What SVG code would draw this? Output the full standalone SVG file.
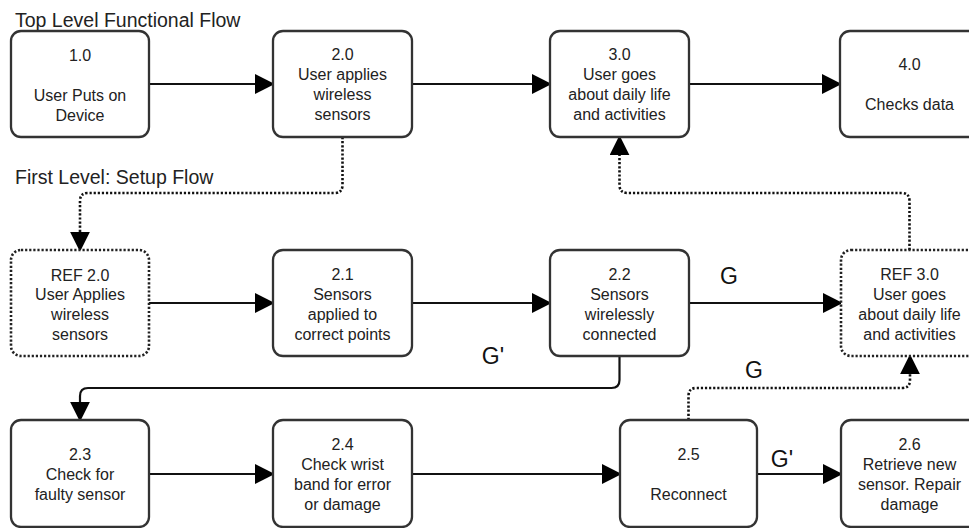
<svg xmlns="http://www.w3.org/2000/svg" width="969" height="528" viewBox="0 0 969 528">
  <style>
    .box { fill: #fff; stroke: #333; stroke-width: 2.3; }
    .ref { fill: #fff; stroke: #222; stroke-width: 2.6; stroke-dasharray: 2.2 1.9; }
    .t { font-family: "Liberation Sans", Arial, sans-serif; font-size: 16px; fill: #222; text-anchor: middle; }
    .title { font-family: "Liberation Sans", Arial, sans-serif; font-size: 19.5px; fill: #222; }
    .lbl { font-family: "Liberation Sans", Arial, sans-serif; font-size: 23px; fill: #111; text-anchor: middle; }
    .c { fill: none; stroke: #111; stroke-width: 2.2; }
    .d { fill: none; stroke: #111; stroke-width: 2.6; stroke-dasharray: 2.2 1.9; }
  </style>
  <defs>
    <marker id="arrow" markerUnits="userSpaceOnUse" markerWidth="20" markerHeight="20" viewBox="0 0 18 18" refX="2" refY="9" orient="auto">
      <path d="M0,0 L18,9 L0,18 z" fill="#000"/>
    </marker>
  </defs>

  <rect width="969" height="528" fill="#fff"/>

  <text class="title" x="15" y="27">Top Level Functional Flow</text>
  <text class="title" x="15" y="184">First Level: Setup Flow</text>

  <!-- connectors -->
  <g id="connectors">
    <path class="c" d="M149,84 H257" marker-end="url(#arrow)"/>
    <path class="c" d="M412,84 H534" marker-end="url(#arrow)"/>
    <path class="c" d="M689,84 H824" marker-end="url(#arrow)"/>
    <path class="d" d="M342.5,137 V185 Q342.5,193 334.5,193 H88 Q80,193 80,201 V234" marker-end="url(#arrow)"/>
    <path class="d" d="M909.5,250 V201 Q909.5,193 901.5,193 H627.5 Q619.5,193 619.5,185 V153" marker-end="url(#arrow)"/>
    <path class="c" d="M149,303 H257" marker-end="url(#arrow)"/>
    <path class="c" d="M412,303 H534" marker-end="url(#arrow)"/>
    <path class="c" d="M689,303 H825" marker-end="url(#arrow)"/>
    <path class="c" d="M619.5,356 V380 Q619.5,388 611.5,388 H88 Q80,388 80,396 V404" marker-end="url(#arrow)"/>
    <path class="c" d="M149,474 H257" marker-end="url(#arrow)"/>
    <path class="c" d="M412,474 H604" marker-end="url(#arrow)"/>
    <path class="c" d="M757,474 H825" marker-end="url(#arrow)"/>
    <path class="d" d="M688.5,420 V396 Q688.5,388 696.5,388 H902 Q910,388 910,380 V372" marker-end="url(#arrow)"/>
    <text class="lbl" x="729" y="284">G</text>
    <text class="lbl" x="493" y="364">G'</text>
    <text class="lbl" x="754" y="378">G</text>
    <text class="lbl" x="782" y="467">G'</text>
  </g>

  <!-- top level -->
  <g id="n1_0">
    <rect class="box" x="11" y="31" width="138" height="106" rx="10"/>
    <text class="t" x="80" y="61">1.0</text>
    <text class="t" x="80" y="101">User Puts on</text>
    <text class="t" x="80" y="121">Device</text>
  </g>
  <g id="n2_0">
    <rect class="box" x="273" y="31" width="139" height="106" rx="10"/>
    <text class="t" x="342.5" y="60">2.0</text>
    <text class="t" x="342.5" y="80">User applies</text>
    <text class="t" x="342.5" y="100">wireless</text>
    <text class="t" x="342.5" y="120">sensors</text>
  </g>
  <g id="n3_0">
    <rect class="box" x="550" y="31" width="139" height="106" rx="10"/>
    <text class="t" x="619.5" y="60">3.0</text>
    <text class="t" x="619.5" y="80">User goes</text>
    <text class="t" x="619.5" y="100">about daily life</text>
    <text class="t" x="619.5" y="120">and activities</text>
  </g>
  <g id="n4_0">
    <rect class="box" x="840" y="31" width="139" height="106" rx="10"/>
    <text class="t" x="909.5" y="70">4.0</text>
    <text class="t" x="909.5" y="110">Checks data</text>
  </g>

  <!-- setup flow -->
  <g id="ref2_0">
    <rect class="ref" x="11" y="250" width="138" height="106" rx="10"/>
    <text class="t" x="80" y="281">REF 2.0</text>
    <text class="t" x="80" y="300">User Applies</text>
    <text class="t" x="80" y="320">wireless</text>
    <text class="t" x="80" y="340">sensors</text>
  </g>
  <g id="n2_1">
    <rect class="box" x="273" y="250" width="139" height="106" rx="10"/>
    <text class="t" x="342.5" y="280">2.1</text>
    <text class="t" x="342.5" y="300">Sensors</text>
    <text class="t" x="342.5" y="320">applied to</text>
    <text class="t" x="342.5" y="340">correct points</text>
  </g>
  <g id="n2_2">
    <rect class="box" x="550" y="250" width="139" height="106" rx="10"/>
    <text class="t" x="619.5" y="280">2.2</text>
    <text class="t" x="619.5" y="300">Sensors</text>
    <text class="t" x="619.5" y="320">wirelessly</text>
    <text class="t" x="619.5" y="340">connected</text>
  </g>
  <g id="ref3_0">
    <rect class="ref" x="841" y="250" width="139" height="106" rx="10"/>
    <text class="t" x="909.5" y="280">REF 3.0</text>
    <text class="t" x="909.5" y="300">User goes</text>
    <text class="t" x="909.5" y="320">about daily life</text>
    <text class="t" x="909.5" y="340">and activities</text>
  </g>

  <!-- bottom row -->
  <g id="n2_3">
    <rect class="box" x="11" y="420" width="138" height="107" rx="10"/>
    <text class="t" x="80" y="460">2.3</text>
    <text class="t" x="80" y="480">Check for</text>
    <text class="t" x="80" y="500">faulty sensor</text>
  </g>
  <g id="n2_4">
    <rect class="box" x="273" y="420" width="139" height="107" rx="10"/>
    <text class="t" x="342.5" y="450">2.4</text>
    <text class="t" x="342.5" y="470">Check wrist</text>
    <text class="t" x="342.5" y="490">band for error</text>
    <text class="t" x="342.5" y="510">or damage</text>
  </g>
  <g id="n2_5">
    <rect class="box" x="620" y="420" width="137" height="107" rx="10"/>
    <text class="t" x="688.5" y="460">2.5</text>
    <text class="t" x="688.5" y="500">Reconnect</text>
  </g>
  <g id="n2_6">
    <rect class="box" x="841" y="420" width="139" height="107" rx="10"/>
    <text class="t" x="909.5" y="450">2.6</text>
    <text class="t" x="909.5" y="470">Retrieve new</text>
    <text class="t" x="909.5" y="490">sensor. Repair</text>
    <text class="t" x="909.5" y="510">damage</text>
  </g>
</svg>
